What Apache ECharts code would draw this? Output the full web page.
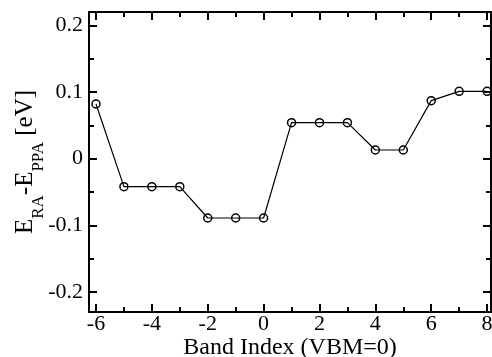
<!DOCTYPE html>
<html>
<head>
<meta charset="utf-8">
<script src="https://cdn.jsdelivr.net/npm/echarts@6/dist/echarts.min.js"></script>
<style>
html,body{margin:0;padding:0;background:#fff;}
#chart{width:492px;height:357px;}
</style>
</head>
<body>
<div id="chart"></div>
<script>
// band index vs energy difference
var bandIndex = [-6, -5, -4, -3, -2, -1, 0, 1, 2, 3, 4, 5, 6, 7, 8];
var deltaE = [0.082, -0.042, -0.042, -0.042, -0.089, -0.089, -0.089, 0.054, 0.054, 0.054, 0.013, 0.013, 0.087, 0.101, 0.101];
// tick positions
var xMajor = [-6, -4, -2, 0, 2, 4, 6, 8];
var xMinor = [-5, -3, -1, 1, 3, 5, 7];
var yMajor = [-0.2, -0.1, 0, 0.1, 0.2];
var yMinor = [-0.15, -0.05, 0.05, 0.15];
var xRange = [-6.25, 8.14];
var yRange = [-0.23, 0.22];

var font = 'Liberation Serif';

function xAx(pos, ticks, len, showLine, showLabel, nm) {
    return {
        type: 'value',
        position: pos,
        min: xRange[0],
        max: xRange[1],
        name: nm || '',
        nameLocation: 'middle',
        nameGap: 24,
        nameMoveOverlap: false,
        nameTextStyle: {fontFamily: font, fontSize: 24, color: '#000'},
        axisLine: {show: showLine, onZero: false, lineStyle: {color: '#000', width: 2}},
        axisTick: {show: true, inside: true, length: len, customValues: ticks, lineStyle: {color: '#000', width: 2}},
        axisLabel: {show: showLabel, customValues: ticks, margin: 1, fontFamily: font, fontSize: 22, color: '#000'},
        splitLine: {show: false}
    };
}
function yAx(pos, ticks, len, showLine, showLabel, nm) {
    return {
        type: 'value',
        position: pos,
        min: yRange[0],
        max: yRange[1],
        name: nm || '',
        nameLocation: 'middle',
        nameGap: 50,
        nameMoveOverlap: false,
        nameTextStyle: {
            fontFamily: font, fontSize: 25, color: '#000',
            rich: {
                m: {fontFamily: font, fontSize: 25, lineHeight: 26, verticalAlign: 'top', color: '#000'},
                s: {fontFamily: font, fontSize: 17, lineHeight: 17, padding: [17, 0, 0, 0], verticalAlign: 'top', color: '#000'}
            }
        },
        axisLine: {show: showLine, onZero: false, lineStyle: {color: '#000', width: 2}},
        axisTick: {show: true, inside: true, length: len, customValues: ticks, lineStyle: {color: '#000', width: 2}},
        axisLabel: {show: showLabel, customValues: ticks, margin: 6, fontFamily: font, fontSize: 22, color: '#000',
            formatter: function (v) { return Math.abs(v) < 1e-9 ? '0' : String(+v.toFixed(2)); }},
        splitLine: {show: false}
    };
}

var chart = echarts.init(document.getElementById('chart'));
var option = {
    animation: false,
    backgroundColor: '#fff',
    grid: {left: 89, right: 1, top: 12, bottom: 45, outerBoundsMode: 'none'},
    xAxis: [
        xAx('bottom', xMajor, 8, true, true, 'Band Index (VBM=0)'),
        xAx('bottom', xMinor, 5, false, false),
        xAx('top', xMajor, 8, true, false),
        xAx('top', xMinor, 5, false, false)
    ],
    yAxis: [
        yAx('left', yMajor, 8, true, true, '{m|E}{s|RA}{m|-E}{s|PPA}{m| [eV]}'),
        yAx('left', yMinor, 5, false, false),
        yAx('right', yMajor, 8, true, false),
        yAx('right', yMinor, 5, false, false)
    ],
    series: [{
        type: 'line',
        xAxisIndex: 0,
        yAxisIndex: 0,
        data: bandIndex.map(function (b, i) { return [b, deltaE[i]]; }),
        symbol: 'circle',
        symbolSize: 8,
        lineStyle: {color: '#000', width: 1.2},
        itemStyle: {color: 'rgba(0,0,0,0)', borderColor: '#000', borderWidth: 1.5}
    }]
};
chart.setOption(option);
</script>
</body>
</html>
